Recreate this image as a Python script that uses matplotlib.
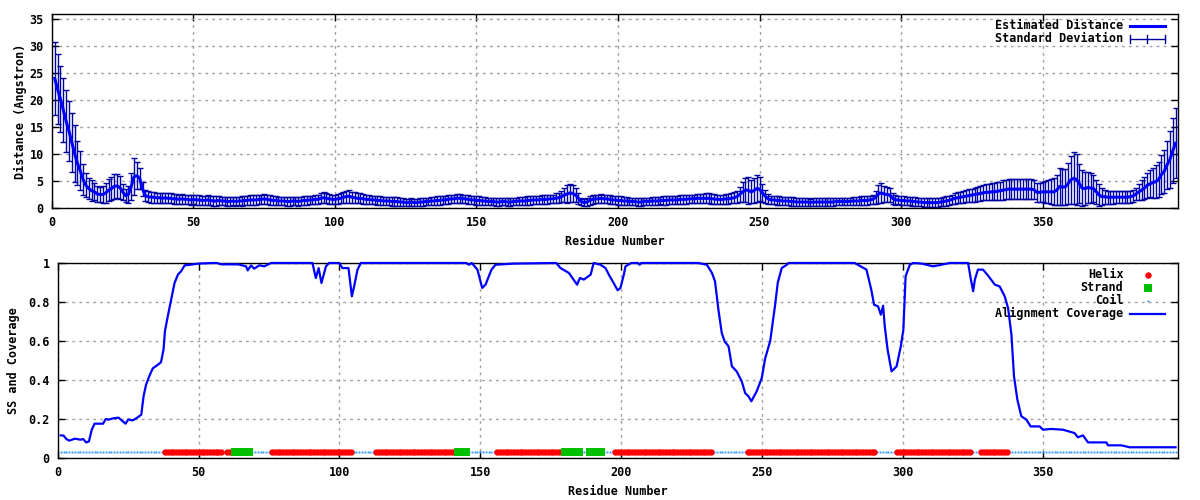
import numpy as np
import matplotlib
matplotlib.use("Agg")
import matplotlib.pyplot as plt

# residue numbers 1..397
residues = np.arange(1, 398)

# estimated distance (Angstrom) per residue
distance = [
    24.0, 22.0, 20.2, 18.2, 16.1, 14.3, 12.2, 10.1, 8.3, 6.9,
    5.3, 4.2, 3.6, 3.2, 3.0, 2.6, 2.5, 2.5, 2.8, 3.3,
    3.6, 4.0, 4.1, 3.8, 3.0, 2.3, 2.5, 4.0, 5.8, 6.0,
    5.5, 3.5, 2.3, 2.1, 2.0, 2.0, 1.9, 1.9, 1.8, 1.9,
    1.8, 1.8, 1.7, 1.7, 1.6, 1.7, 1.6, 1.6, 1.5, 1.6,
    1.5, 1.5, 1.4, 1.4, 1.5, 1.4, 1.3, 1.3, 1.4, 1.3,
    1.3, 1.2, 1.2, 1.3, 1.2, 1.3, 1.3, 1.4, 1.4, 1.5,
    1.5, 1.5, 1.6, 1.6, 1.7, 1.6, 1.5, 1.4, 1.4, 1.3,
    1.3, 1.3, 1.2, 1.2, 1.3, 1.3, 1.2, 1.3, 1.4, 1.4,
    1.5, 1.5, 1.6, 1.6, 1.8, 1.9, 1.8, 1.7, 1.6, 1.6,
    1.7, 1.8, 2.0, 2.1, 2.2, 2.0, 1.9, 1.8, 1.8, 1.7,
    1.6, 1.6, 1.5, 1.5, 1.4, 1.4, 1.3, 1.3, 1.3, 1.2,
    1.2, 1.2, 1.1, 1.1, 1.0, 1.0, 1.1, 1.0, 1.0, 1.1,
    1.1, 1.2, 1.2, 1.3, 1.3, 1.4, 1.4, 1.5, 1.5, 1.6,
    1.7, 1.7, 1.8, 1.8, 1.7, 1.7, 1.6, 1.5, 1.5, 1.4,
    1.4, 1.3, 1.3, 1.2, 1.2, 1.2, 1.1, 1.1, 1.2, 1.2,
    1.1, 1.1, 1.2, 1.2, 1.3, 1.3, 1.3, 1.4, 1.4, 1.5,
    1.5, 1.5, 1.6, 1.6, 1.6, 1.7, 1.7, 1.8, 1.9, 2.1,
    2.4, 2.6, 2.8, 2.7, 2.4, 1.8, 1.2, 1.0, 1.1, 1.4,
    1.6, 1.7, 1.7, 1.8, 1.7, 1.7, 1.6, 1.5, 1.5, 1.4,
    1.4, 1.3, 1.3, 1.2, 1.2, 1.2, 1.1, 1.1, 1.2, 1.2,
    1.2, 1.3, 1.3, 1.3, 1.4, 1.4, 1.4, 1.5, 1.5, 1.5,
    1.5, 1.6, 1.6, 1.6, 1.7, 1.7, 1.7, 1.8, 1.8, 1.8,
    1.8, 1.8, 1.7, 1.7, 1.6, 1.6, 1.6, 1.7, 1.7, 1.8,
    1.9, 2.1, 2.5, 3.0, 3.3, 3.3, 3.0, 3.2, 3.6, 3.5,
    2.8, 2.2, 1.7, 1.5, 1.5, 1.4, 1.4, 1.3, 1.3, 1.3,
    1.2, 1.2, 1.1, 1.1, 1.1, 1.1, 1.1, 1.0, 1.1, 1.1,
    1.1, 1.1, 1.1, 1.1, 1.1, 1.1, 1.2, 1.2, 1.2, 1.2,
    1.2, 1.2, 1.3, 1.3, 1.3, 1.4, 1.4, 1.4, 1.5, 1.6,
    2.0, 2.6, 2.8, 2.6, 2.5, 2.4, 1.8, 1.5, 1.5, 1.4,
    1.4, 1.3, 1.3, 1.2, 1.2, 1.1, 1.1, 1.0, 1.0, 1.0,
    1.0, 1.0, 1.0, 1.1, 1.2, 1.3, 1.4, 1.6, 1.8, 1.9,
    2.0, 2.1, 2.2, 2.3, 2.4, 2.5, 2.6, 2.7, 2.8, 2.9,
    2.9, 3.0, 3.0, 3.1, 3.2, 3.3, 3.4, 3.5, 3.5, 3.5,
    3.5, 3.5, 3.5, 3.5, 3.5, 3.5, 3.4, 2.9, 2.9, 3.0,
    3.0, 3.0, 3.0, 3.0, 3.3, 4.0, 3.9, 3.9, 4.5, 5.2,
    5.5, 5.3, 4.5, 3.7, 3.6, 3.8, 3.7, 3.6, 3.0, 2.4,
    2.1, 2.1, 2.0, 2.0, 2.0, 2.0, 2.0, 2.0, 2.0, 2.0,
    2.1, 2.2, 2.6, 3.0, 3.3, 3.7, 4.2, 4.5, 4.7, 4.9,
    5.3, 6.2, 6.8, 8.0, 9.0, 10.6, 12.0,
]

# standard deviation per residue
std_dev = [
    6.8, 6.5, 6.2, 5.9, 5.8, 5.5, 5.5, 5.2, 4.1, 3.6,
    2.8, 2.2, 2.0, 1.9, 1.6, 1.4, 1.4, 1.5, 1.8, 2.0,
    2.2, 2.3, 2.2, 2.1, 1.5, 1.2, 1.5, 2.5, 3.4, 2.5,
    2.0, 1.3, 1.0, 1.0, 1.0, 1.0, 0.9, 0.9, 0.9, 0.9,
    0.9, 0.9, 0.9, 0.9, 0.9, 0.9, 0.9, 0.9, 0.9, 0.9,
    0.9, 0.9, 0.8, 0.9, 0.9, 0.8, 0.9, 0.9, 0.8, 0.8,
    0.8, 0.9, 0.8, 0.8, 0.8, 0.8, 0.9, 0.9, 0.9, 0.9,
    0.9, 0.9, 0.9, 0.9, 0.9, 0.9, 0.9, 0.8, 0.8, 0.8,
    0.8, 0.8, 0.8, 0.8, 0.8, 0.8, 0.8, 0.8, 0.8, 0.8,
    0.8, 0.8, 0.8, 0.8, 0.9, 1.0, 0.9, 0.9, 0.8, 0.8,
    0.9, 0.9, 1.0, 1.1, 1.2, 1.0, 1.0, 0.9, 0.9, 0.9,
    0.9, 0.8, 0.8, 0.8, 0.8, 0.8, 0.8, 0.8, 0.8, 0.8,
    0.8, 0.8, 0.7, 0.7, 0.7, 0.7, 0.7, 0.7, 0.7, 0.7,
    0.7, 0.7, 0.7, 0.7, 0.8, 0.8, 0.8, 0.8, 0.8, 0.8,
    0.8, 0.8, 0.8, 0.8, 0.8, 0.8, 0.8, 0.8, 0.8, 0.8,
    0.8, 0.8, 0.8, 0.7, 0.7, 0.7, 0.7, 0.7, 0.7, 0.7,
    0.7, 0.7, 0.7, 0.7, 0.7, 0.8, 0.8, 0.8, 0.8, 0.8,
    0.8, 0.8, 0.8, 0.8, 0.8, 0.8, 0.8, 0.9, 0.9, 1.0,
    1.3, 1.7, 1.7, 1.6, 1.3, 1.0, 0.7, 0.6, 0.7, 0.8,
    0.8, 0.8, 0.8, 0.8, 0.8, 0.8, 0.8, 0.8, 0.8, 0.8,
    0.8, 0.8, 0.8, 0.7, 0.7, 0.7, 0.7, 0.7, 0.7, 0.7,
    0.7, 0.7, 0.7, 0.7, 0.7, 0.8, 0.8, 0.8, 0.8, 0.8,
    0.8, 0.8, 0.8, 0.8, 0.8, 0.8, 0.8, 0.8, 0.8, 0.8,
    0.9, 0.9, 0.9, 0.9, 0.9, 0.9, 0.9, 0.9, 0.9, 0.9,
    1.0, 1.1, 1.4, 1.8, 2.2, 2.5, 2.1, 2.3, 2.5, 2.2,
    1.6, 1.2, 0.9, 0.8, 0.8, 0.8, 0.8, 0.8, 0.8, 0.8,
    0.8, 0.8, 0.7, 0.7, 0.7, 0.7, 0.7, 0.7, 0.7, 0.7,
    0.7, 0.7, 0.7, 0.7, 0.7, 0.7, 0.7, 0.7, 0.7, 0.7,
    0.7, 0.7, 0.7, 0.7, 0.7, 0.8, 0.8, 0.8, 0.8, 0.9,
    1.2, 1.6, 1.8, 1.5, 1.4, 1.3, 1.0, 0.9, 0.8, 0.8,
    0.8, 0.8, 0.8, 0.8, 0.8, 0.8, 0.8, 0.8, 0.8, 0.8,
    0.8, 0.8, 0.8, 0.8, 0.8, 0.9, 0.9, 0.9, 1.0, 1.0,
    1.0, 1.1, 1.1, 1.2, 1.2, 1.3, 1.3, 1.4, 1.4, 1.5,
    1.5, 1.6, 1.6, 1.7, 1.7, 1.8, 1.8, 1.8, 1.8, 1.9,
    1.9, 1.9, 1.9, 1.9, 1.8, 1.8, 1.8, 1.8, 1.8, 1.9,
    2.0, 2.1, 2.3, 2.5, 2.8, 3.4, 3.4, 3.3, 3.8, 4.5,
    4.8, 4.8, 3.6, 3.3, 3.0, 2.8, 2.7, 2.5, 2.2, 2.0,
    1.6, 1.3, 1.2, 1.2, 1.2, 1.1, 1.1, 1.1, 1.1, 1.1,
    1.1, 1.1, 1.2, 1.5, 1.8, 2.0, 2.3, 2.5, 2.8, 3.0,
    3.3, 3.6, 4.0, 4.5, 5.2, 6.0, 6.5,
]

# alignment coverage, read at the corners of the curve
cov_x = [1, 2, 3, 4, 6, 8, 9, 10, 11, 12, 13, 16, 17, 18, 19.5, 21.5, 23, 24, 25, 26.5,
         28, 29.6, 30.4, 31.3, 32.5, 33.7, 35, 36.6, 37.5, 38, 39, 40.2, 41.4, 42.6, 43.7,
         45, 47, 50, 55, 56.5, 58, 64, 66.8, 67.4, 68.6, 69.7, 71.5, 73.3, 75.7, 90.4, 91.6,
         92.6, 93.6, 95.2, 96.3, 100, 101, 103.2, 104.4, 105.2, 106.4, 107.6, 145, 146, 147,
         149, 150.7, 151.9, 152.8, 154, 155.4, 162, 177, 178.5, 181.5, 184.4, 185.4, 186.8,
         189.2, 190.3, 192.7, 194.5, 195.7, 197.4, 198.8, 199.8, 201, 201.6, 203.7, 206, 206.6,
         207.2, 227.5, 230.5, 232.3, 233.4, 234.6, 235.8, 236.8, 238.2, 239.4, 241.1, 242.9,
         244.1, 245.3, 246.3, 248.2, 250, 251.2, 253, 254.7, 255.7, 257.1, 258.9, 259.5, 283,
         287.2, 288.9, 289.9, 291.3, 292.3, 293.1, 293.7, 294.7, 296.1, 297.9, 299.4, 300.3,
         301.1, 302.6, 303.8, 306.8, 310.9, 313.8, 316.8, 323.3, 324.2, 325.1, 325.7, 326.8,
         328.6, 330.4, 332.8, 334.5, 336.3, 337.5, 338.7, 339.6, 340.8, 342.2, 344, 345.5,
         348.7, 349.9, 352.8, 357, 361.1, 362.3, 364.1, 365.9, 372.4, 373, 377.7, 380.7, 397]
cov_y = [0.116, 0.115, 0.097, 0.089, 0.099, 0.094, 0.097, 0.080, 0.085, 0.145, 0.176, 0.176,
         0.200, 0.197, 0.203, 0.207, 0.188, 0.176, 0.198, 0.193, 0.205, 0.222, 0.316, 0.376,
         0.422, 0.460, 0.473, 0.491, 0.556, 0.650, 0.726, 0.812, 0.897, 0.940, 0.957, 0.988,
         0.991, 0.997, 1.0, 1.0, 0.993, 0.993, 0.983, 0.962, 0.988, 0.971, 0.988, 0.983, 1.0,
         1.0, 0.923, 0.974, 0.897, 0.983, 1.0, 1.0, 0.974, 0.974, 0.829, 0.880, 0.966, 1.0,
         1.0, 0.991, 1.0, 0.966, 0.872, 0.889, 0.923, 0.966, 0.991, 0.997, 1.0, 0.974, 0.949,
         0.889, 0.923, 0.915, 0.940, 1.0, 0.991, 0.974, 0.940, 0.897, 0.860, 0.872, 0.940,
         0.983, 1.0, 1.0, 0.991, 1.0, 1.0, 0.991, 0.949, 0.906, 0.761, 0.641, 0.598, 0.573,
         0.470, 0.444, 0.393, 0.333, 0.316, 0.291, 0.342, 0.410, 0.510, 0.600, 0.780, 0.900,
         0.974, 0.991, 1.0, 1.0, 0.966, 0.863, 0.786, 0.778, 0.735, 0.781, 0.675, 0.556,
         0.444, 0.470, 0.573, 0.658, 0.932, 0.991, 1.0, 0.997, 0.983, 0.991, 1.0, 1.0, 0.923,
         0.855, 0.915, 0.966, 0.966, 0.935, 0.889, 0.880, 0.829, 0.769, 0.632, 0.419, 0.299,
         0.214, 0.197, 0.162, 0.162, 0.145, 0.149, 0.145, 0.128, 0.106, 0.116, 0.080, 0.080,
         0.065, 0.065, 0.055, 0.055]

# secondary structure (first, last residue); everything else is coil
helix_ranges = [(38, 58), (60, 62), (76, 104), (113, 141), (156, 179), (198, 232),
                (245, 290), (298, 324), (328, 337)]
strand_ranges = [(63, 68), (142, 145), (180, 185), (189, 193)]
ss_level = 0.03

plt.rcParams['font.family'] = ['DejaVu Sans Mono', 'DejaVu Sans']
plt.rcParams['font.weight'] = 'bold'
plt.rcParams['font.size'] = 8.5
plt.rcParams['axes.labelweight'] = 'bold'

blue = '#0000ff'
navy = '#0000a0'
gridc = '#a0a0a0'


def style_axes(ax):
    ax.grid(True, color=gridc, linestyle=(0, (2, 3)), linewidth=1)
    ax.set_axisbelow(True)
    ax.tick_params(direction='in', top=True, right=True, length=5, width=1, pad=6)
    for s in ax.spines.values():
        s.set_linewidth(1)
    ax.set_xlim(0, 398)
    ax.set_xticks(range(0, 351, 50))
    ax.set_xlabel('Residue Number', labelpad=4)


fig = plt.figure(figsize=(12, 5), dpi=100)

# ---- top: distance with error bars ----
ax1 = fig.add_axes([0.0433, 0.584, 0.9387, 0.3873])
ax1.errorbar(residues, distance, yerr=std_dev, fmt='none', ecolor=navy,
             elinewidth=1, capsize=2.5, capthick=1, zorder=2)
ax1.plot(residues, distance, color=blue, lw=2.2, zorder=3)
style_axes(ax1)
ax1.set_ylim(0, 35.9)
ax1.set_yticks(range(0, 36, 5))
ax1.set_ylabel('Distance (Angstron)', labelpad=2)

# legend in gnuplot style (text right aligned, sample on the right)
ax1.text(0.951, 0.941, 'Estimated Distance', transform=ax1.transAxes, ha='right', va='center')
ax1.text(0.951, 0.874, 'Standard Deviation', transform=ax1.transAxes, ha='right', va='center')
ax1.plot([0.957, 0.988], [0.941, 0.941], transform=ax1.transAxes, color=blue, lw=2.2)
ax1.plot([0.957, 0.988], [0.874, 0.874], transform=ax1.transAxes, color=navy, lw=1)
for xx in (0.957, 0.9725, 0.988):
    ax1.plot([xx, xx], [0.874 - 0.02, 0.874 + 0.02], transform=ax1.transAxes, color=navy, lw=1)

# ---- bottom: secondary structure and coverage ----
ax2 = fig.add_axes([0.0483, 0.084, 0.9337, 0.39])
helix_res = [r for a, b in helix_ranges for r in range(a, b + 1)]
strand_res = [r for a, b in strand_ranges for r in range(a, b + 1)]
coil_res = [r for r in residues if r not in helix_res and r not in strand_res]

ax2.plot(coil_res, [ss_level] * len(coil_res), linestyle='none', marker='s',
         markersize=1.3, color='#1e90ff', markeredgewidth=0)
ax2.plot(helix_res, [ss_level] * len(helix_res), linestyle='none', marker='o',
         markersize=4.6, color='#ff0000', markeredgewidth=0)
ax2.plot(strand_res, [ss_level] * len(strand_res), linestyle='none', marker='s',
         markersize=5.2, color='#00c000', markeredgewidth=0)
ax2.plot(cov_x, cov_y, color=blue, lw=1.6, clip_on=False, zorder=4)
style_axes(ax2)
ax2.set_ylim(0, 1)
ax2.set_yticks([0, 0.2, 0.4, 0.6, 0.8, 1.0])
ax2.set_yticklabels(['0', '0.2', '0.4', '0.6', '0.8', '1'])
ax2.set_ylabel('SS and Coverage', labelpad=6)

leg_rows = [('Helix', 0.940), ('Strand', 0.873), ('Coil', 0.806), ('Alignment Coverage', 0.740)]
for label, yy in leg_rows:
    ax2.text(0.951, yy, label, transform=ax2.transAxes, ha='right', va='center')
ax2.plot([0.973], [0.940], transform=ax2.transAxes, marker='o', markersize=4.6,
         color='#ff0000', markeredgewidth=0)
ax2.plot([0.973], [0.873], transform=ax2.transAxes, marker='s', markersize=5.2,
         color='#00c000', markeredgewidth=0)
ax2.plot([0.973], [0.806], transform=ax2.transAxes, marker='s', markersize=1.3,
         color='#1e90ff', markeredgewidth=0)
ax2.plot([0.957, 0.988], [0.740, 0.740], transform=ax2.transAxes, color=blue, lw=1.6)

fig.savefig('out.png', dpi=100)
